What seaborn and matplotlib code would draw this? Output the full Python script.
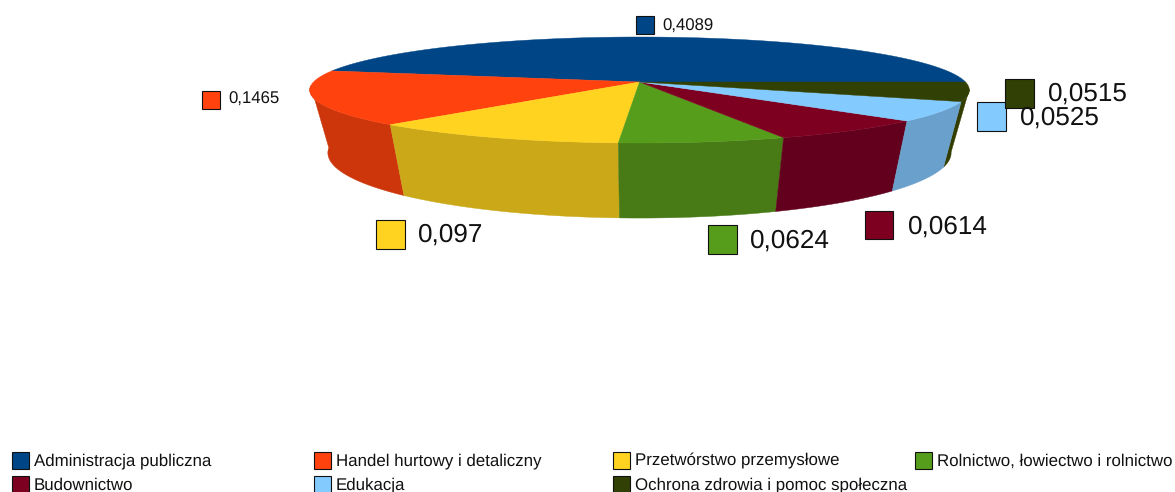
import numpy as np
import matplotlib
matplotlib.use("Agg")
import matplotlib.pyplot as plt
from matplotlib.patches import Polygon, Rectangle
import seaborn as sns

categories = ["Administracja publiczna", "Handel hurtowy i detaliczny", "Przetwórstwo przemysłowe",
              "Rolnictwo, łowiectwo i rolnictwo", "Budownictwo", "Edukacja",
              "Ochrona zdrowia i pomoc społeczna"]
values = [0.4089, 0.1465, 0.097, 0.0624, 0.0614, 0.0525, 0.0515]
top_colors = ["#004586", "#FF420E", "#FFD320", "#579D1C", "#7E0021", "#83CAFF", "#314004"]
side_colors = ["#00386B", "#CC360A", "#CAA818", "#487A16", "#62001E", "#6AA0CC", "#333D00"]

sns.set_theme(style="white")
plt.rcParams["font.family"] = ["Liberation Sans", "DejaVu Sans"]
plt.rcParams["text.hinting"] = "no_hinting"
palette = sns.color_palette(top_colors)
side_palette = sns.color_palette(side_colors)

fig = plt.figure(figsize=(11.75, 4.92), dpi=100)
ax = fig.add_axes([0, 0, 1, 1])
ax.set_xlim(0, 1175)
ax.set_ylim(492, 0)
ax.axis("off")

# projected pie geometry
CX, CY, RX, RY, K = 639.5, 82, 326, 51.8, 0.151
BOTTOM_SCALE_X, BOTTOM_Y, BOTTOM_SCALE_Y = 0.945, 143, 1.23


def top_rim(theta):
    t = np.radians(theta)
    den = 1 + K * np.sin(t)
    return CX + RX * np.cos(t) / den, CY - RY * np.sin(t) / den


def bottom_rim(theta):
    x, y = top_rim(theta)
    return CX + BOTTOM_SCALE_X * (x - CX), BOTTOM_Y + BOTTOM_SCALE_Y * (y - CY)


shares = np.array(values) / np.sum(values) * 360
edges = np.concatenate([[0], np.cumsum(shares)])

# visible part of each wall, drawn from the outside in
wall_limits = {1: (edges[1] + 17, edges[2]), 2: (edges[2], edges[3]), 3: (edges[3], edges[4]),
               4: (edges[4], edges[5]), 6: (edges[6], edges[7] - 8), 5: (edges[5], edges[6])}
for i, (a, b) in wall_limits.items():
    th = np.linspace(a, b, 60)
    tx, ty = top_rim(th)
    bx, by = bottom_rim(th[::-1])
    ax.add_patch(Polygon(np.r_[np.c_[tx, ty], np.c_[bx, by]], closed=True, fc=side_palette[i],
                         ec=side_palette[i], lw=0.3, zorder=2))

# top faces
for i in range(len(values)):
    th = np.linspace(edges[i], edges[i + 1], 120)
    x, y = top_rim(th)
    pts = np.r_[[[CX, CY]], np.c_[x, y]]
    ax.add_patch(Polygon(pts, closed=True, fc=palette[i], ec=palette[i], lw=0.3, zorder=3))

# data labels: (square x, square y, square size, text x, text y, font size)
label_layout = [(636, 16, 18, 662, 26.5, 12.1), (202, 91, 18, 228, 99.5, 12.1), (376, 220, 29, 418, 234.5, 18.8),
                (708, 225, 29, 750, 240.5, 18.8), (865, 211, 28, 908, 226.5, 18.8),
                (977, 102, 29, 1020, 117.5, 18.8), (1005, 79, 29, 1048, 93.5, 18.8)]
for i, (sx, sy, size, tx, ty, fs) in enumerate(label_layout):
    ax.add_patch(Rectangle((sx, sy), size, size, fc=palette[i], ec="#111111", lw=0.8, zorder=4 + i))
    ax.text(tx, ty, str(values[i]).replace(".", ","), fontsize=fs, color="#111111", va="center",
            ha="left", zorder=12)

# legend
col_x = [12, 314, 613, 915]
row_y = [452, 476]
for i, name in enumerate(categories):
    row, col = divmod(i, 4)
    ax.add_patch(Rectangle((col_x[col], row_y[row]), 17, 17, fc=palette[i], ec="#111111", lw=0.8,
                           zorder=4, clip_on=True))
    ax.text(col_x[col] + 22, row_y[row] + 9, name, fontsize=12.2, color="#111111", va="center",
            ha="left", zorder=5, clip_on=True)

sns.despine(ax=ax, left=True, bottom=True)
fig.savefig("out.png", dpi=100, facecolor="white")
